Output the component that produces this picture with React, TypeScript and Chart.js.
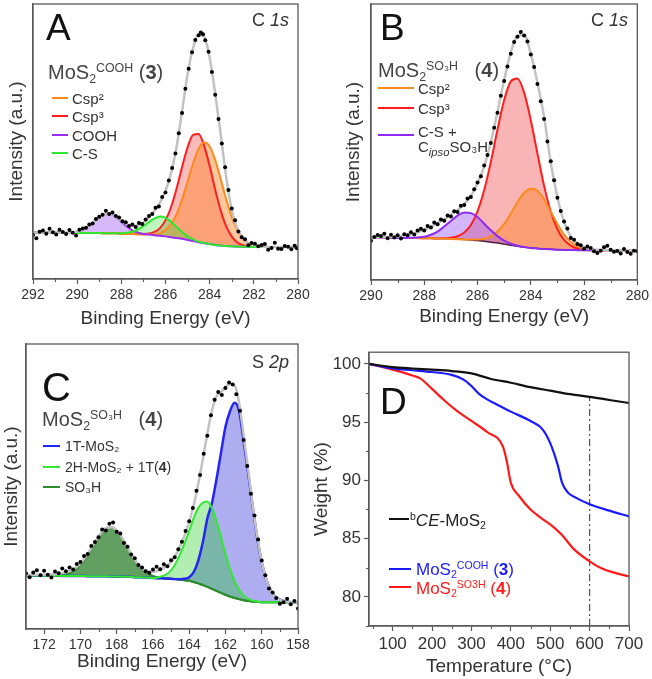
import React, { useEffect, useRef } from "react";
import { Chart, registerables } from "chart.js";
Chart.register(...registerables);

const FONT = "'Liberation Sans', Arial, Helvetica, sans-serif";
const AXIS = "#5a5a5a";
const TXT = "#333333";

// ---------------- Panel A : C 1s of MoS2-COOH ----------------
const A_X = [292,291.75,291.5,291.25,291,290.75,290.5,290.25,290,289.75,289.5,289.25,289,288.75,288.5,288.25,288,287.75,287.5,287.25,287,286.75,286.5,286.25,286,285.75,285.5,285.25,285,284.75,284.5,284.25,284,283.75,283.5,283.25,283,282.75,282.5,282.25,282,281.75,281.5,281.25,281,280.75,280.5,280.25,280];
const A_BG = [16.9,16.9,16.8,16.8,16.8,16.8,16.7,16.7,16.7,16.7,16.7,16.7,16.7,16.6,16.6,16.6,16.5,16.5,16.4,16.3,16.2,16.1,15.9,15.7,15.5,15.2,14.9,14.6,14.2,13.8,13.4,13.0,12.7,12.4,12.2,12.0,11.9,11.8,11.7,11.7,11.6,11.6,11.6,11.6,11.6,11.6,11.6,11.6,11.6];
const A_COOH_NET = [0,0,0,0,0,0,0.05,0.15,0.45,1.1,2.3,4.0,5.7,7.0,7.1,6.1,4.3,2.6,1.3,0.55,0.2,0.06,0,0,0,0,0,0,0,0,0,0,0,0,0,0,0,0,0,0,0,0,0,0,0,0,0,0,0];
const A_CS_NET = [0,0,0,0,0,0,0,0,0,0,0,0,0,0,0,0,0.1,0.3,0.8,1.7,3.0,4.6,6.1,7.0,6.8,5.6,4.0,2.5,1.3,0.6,0.2,0.1,0,0,0,0,0,0,0,0,0,0,0,0,0,0,0,0,0];
const A_SP3_NET = [0,0,0,0,0,0,0,0,0,0,0,0,0,0,0,0,0,0,0,0,0.15,0.45,1.2,2.8,5.9,10.9,17.9,26.1,33.7,38.6,39.3,35.4,28.4,20.1,12.7,7.1,3.5,1.5,0.6,0.2,0,0,0,0,0,0,0,0,0];
const A_SP2_NET = [0,0,0,0,0,0,0,0,0,0,0,0,0,0,0,0,0,0,0,0,0,0.15,0.4,1.0,2.3,4.7,8.6,14.3,21.2,28.3,34.0,36.6,35.5,30.9,24.1,16.9,10.7,6.1,3.1,1.4,0.6,0.2,0,0,0,0,0,0,0];
const A_ENV = [16.9,16.9,16.8,16.8,16.8,16.8,16.8,16.9,17.2,17.8,19.0,20.7,22.4,23.6,23.8,22.8,21.2,19.9,19.3,19.5,20.5,22.3,24.8,27.8,32.0,38.5,48.0,61.0,74.5,84.0,88.8,88.0,80.5,67.5,52.5,37.0,25.0,18.5,15.0,13.2,12.3,11.9,11.7,11.6,11.6,11.6,11.6,11.6,11.6];
const A_DOT_X = [292.0,291.85,291.7,291.55,291.4,291.25,291.1,290.95,290.8,290.65,290.5,290.35,290.2,290.05,289.9,289.75,289.6,289.45,289.3,289.15,289.0,288.85,288.7,288.55,288.4,288.25,288.1,287.95,287.8,287.65,287.5,287.35,287.2,287.05,286.9,286.75,286.6,286.45,286.3,286.15,286.0,285.85,285.7,285.55,285.4,285.25,285.1,284.95,284.8,284.65,284.5,284.4,284.3,284.2,284.05,283.9,283.75,283.6,283.45,283.3,283.15,283.0,282.85,282.7,282.55,282.4,282.25,282.1,281.95,281.8,281.65,281.5,281.35,281.2,281.05,280.9,280.75,280.6,280.45,280.3,280.15,280.05];
const A_DOT_Y = [16.0,14.8,17.2,17.6,16.5,18.3,17.0,16.2,17.9,17.1,16.4,17.8,16.8,15.8,17.9,18.4,18.6,19.8,20.2,21.8,22.6,23.4,24.8,23.6,24.2,22.9,22.4,21.0,20.6,19.3,19.8,18.9,20.4,20.0,21.6,22.9,23.6,25.9,26.4,29.8,31.5,35.8,40.4,45.6,53.0,60.4,69.2,76.5,82.5,86.9,88.6,89.6,89.0,86.8,82.6,75.3,67.0,58.2,49.3,40.6,32.4,25.6,21.4,17.3,15.2,14.5,12.3,13.1,12.8,11.9,12.4,12.7,10.6,11.3,13.2,11.0,10.9,12.0,11.7,10.8,12.1,11.2];
const A_TICKS = [292,290,288,286,284,282,280];
const A_MINOR = [291,289,287,285,283,281];

// ---------------- Panel B : C 1s of MoS2-SO3H ----------------
const B_X = [290,289.75,289.5,289.25,289,288.75,288.5,288.25,288,287.75,287.5,287.25,287,286.75,286.5,286.25,286,285.75,285.5,285.25,285,284.75,284.5,284.25,284,283.75,283.5,283.25,283,282.75,282.5,282.25,282,281.75,281.5,281.25,281,280.75,280.5,280.25,280];
const B_BG = [15.3,15.3,15.3,15.3,15.2,15.2,15.2,15.2,15.1,15.1,15.0,15.0,14.9,14.8,14.7,14.5,14.3,14.0,13.7,13.4,13.0,12.6,12.2,11.9,11.6,11.4,11.2,11.1,11.0,10.9,10.9,10.8,10.8,10.8,10.8,10.8,10.8,10.8,10.8,10.8,10.8];
const B_CS_NET = [0,0,0,0,0,0,0.07,0.22,0.58,1.3,2.55,4.36,6.5,8.5,9.75,9.72,8.5,6.4,4.3,2.5,1.26,0.55,0.2,0.07,0,0,0,0,0,0,0,0,0,0,0,0,0,0,0,0,0];
const B_SP3_NET = [0,0,0,0,0,0,0,0,0,0,0,0.13,0.4,1.04,2.5,5.45,10.6,18.6,29.1,41.1,52.2,59.4,60.85,56.0,46.3,34.4,22.9,13.7,7.4,3.6,1.56,0.61,0.2,0,0,0,0,0,0,0,0];
const B_SP2_NET = [0,0,0,0,0,0,0,0,0,0,0,0,0,0,0,0.13,0.36,0.93,2.1,4.2,7.35,11.5,16.0,19.7,21.5,20.9,17.9,13.7,9.25,5.55,2.95,1.4,0.58,0.2,0,0,0,0,0,0,0];
const B_ENV = [15.3,15.4,15.5,15.6,15.8,16.1,16.6,17.3,18.2,19.4,20.6,22.0,23.6,25.3,27.5,30.5,35.0,41.2,50.0,61.0,72.5,82.5,88.5,88.8,82.0,71.5,59.0,42.5,30.0,21.0,15.8,13.2,11.9,11.2,11.0,10.9,10.8,10.8,10.8,10.8,10.8];
const B_DOT_X = [290,289.875,289.75,289.625,289.5,289.375,289.25,289.125,289,288.875,288.75,288.625,288.5,288.375,288.25,288.125,288,287.875,287.75,287.625,287.5,287.375,287.25,287.125,287,286.875,286.75,286.625,286.5,286.375,286.25,286.125,286,285.875,285.75,285.625,285.5,285.375,285.25,285.125,285,284.875,284.75,284.625,284.5,284.375,284.25,284.125,284,283.875,283.75,283.625,283.5,283.375,283.25,283.125,283,282.875,282.75,282.625,282.5,282.375,282.25,282.125,282,281.875,281.75,281.625,281.5,281.375,281.25,281.125,281,280.875,280.75,280.625,280.5,280.375,280.25,280.125,280];
const B_DOT_Y = [14.2,15.6,16.3,15.9,16.8,15.1,16.4,15.4,16.2,15.0,16.6,16.2,17.3,16.5,17.9,18.6,17.9,19.6,19.0,20.8,20.2,21.9,21.5,23.4,23.0,24.9,24.6,26.9,27.2,29.5,30.1,32.9,35.3,37.6,41.5,45.3,49.6,55.2,60.6,66.8,72.1,77.4,82.0,86.2,88.1,89.9,88.6,86.4,81.7,77.2,71.0,64.8,58.3,50.2,43.0,36.1,29.8,25.0,21.2,18.7,15.2,14.6,13.0,12.6,11.3,12.1,11.6,10.4,9.8,10.6,11.9,12.4,11.0,10.2,10.5,9.6,11.2,10.1,9.5,10.6,10.4];
const B_TICKS = [290,288,286,284,282,280];
const B_MINOR = [289,287,285,283,281];

// ---------------- Panel C : S 2p of MoS2-SO3H ----------------
const C_X = [173,172.75,172.5,172.25,172,171.75,171.5,171.25,171,170.75,170.5,170.25,170,169.75,169.5,169.25,169,168.75,168.5,168.25,168,167.75,167.5,167.25,167,166.75,166.5,166.25,166,165.75,165.5,165.25,165,164.75,164.5,164.25,164,163.75,163.5,163.25,163,162.75,162.5,162.25,162,161.75,161.5,161.25,161,160.75,160.5,160.25,160,159.75,159.5,159.25,159,158.75,158.5,158.25,158];
const C_BG = [18.8,18.8,18.8,18.8,18.7,18.7,18.7,18.7,18.6,18.6,18.6,18.6,18.6,18.6,18.5,18.5,18.5,18.5,18.5,18.4,18.4,18.4,18.3,18.3,18.2,18.2,18.1,18.0,17.9,17.8,17.8,17.7,17.6,17.5,17.3,17.1,16.9,16.5,16.0,15.4,14.8,14.1,13.4,12.7,12.0,11.4,10.9,10.5,10.1,9.8,9.6,9.5,9.4,9.4,9.4,9.4,9.4,9.4,9.4,9.4,9.4];
const C_SO3H_NET = [0,0,0,0,0,0,0,0.15,0.35,0.7,1.3,2.3,3.8,5.8,8.3,11.1,13.8,15.9,17.1,17.2,16.0,13.9,11.2,8.4,5.9,3.8,2.3,1.3,0.7,0.35,0.15,0,0,0,0,0,0,0,0,0,0,0,0,0,0,0,0,0,0,0,0,0,0,0,0,0,0,0,0,0,0];
const C_2H_NET = [0,0,0,0,0,0,0,0,0,0,0,0,0,0,0,0,0,0,0,0,0,0,0,0,0,0,0,0,0,0.3,0.7,1.5,3.0,5.5,9.0,13.0,17.5,22.5,26.5,28.9,29.9,28.3,24.6,19.6,14.3,9.6,5.9,3.3,1.7,0.8,0.35,0.15,0,0,0,0,0,0,0,0,0];
const C_1T_NET = [0,0,0,0,0,0,0,0,0,0,0,0,0,0,0,0,0,0,0,0,0,0,0,0,0,0,0,0,0,0,0,0,0,0,0.15,0.5,1.3,3.5,8,15,24,30,39,49,59,65,68.5,66,56,45,33.5,22.5,14.0,8.0,4.2,2.0,0.9,0.35,0.1,0,0];
const C_ENV = [19.0,19.0,19.0,19.0,19.0,19.1,19.2,19.3,19.6,20.0,20.6,21.6,23.0,25.0,27.4,30.0,32.5,34.6,35.6,35.7,34.6,32.5,29.8,27.0,24.3,22.2,20.8,20.1,20.0,20.5,21.2,22.0,23.5,25.8,29.0,33.0,37.5,43.5,51.0,59.5,68.5,76.5,81.5,83.0,85.0,86.0,85.5,79.5,68.0,56.0,43.5,32.5,23.5,17.5,13.3,11.2,10.2,9.7,9.5,9.4,9.4];
const C_DOT_X = [173,172.8,172.6,172.4,172.2,172,171.8,171.6,171.4,171.2,171,170.8,170.6,170.4,170.2,170,169.8,169.6,169.4,169.2,169,168.8,168.6,168.4,168.2,168,167.8,167.6,167.4,167.2,167,166.8,166.6,166.4,166.2,166,165.8,165.6,165.4,165.2,165,164.8,164.6,164.4,164.2,164,163.8,163.6,163.4,163.2,163,162.8,162.6,162.4,162.2,162,161.8,161.6,161.4,161.2,161,160.8,160.6,160.4,160.2,160,159.8,159.6,159.4,159.2,159,158.8,158.6,158.4,158.2,158];
const C_DOT_Y = [19.5,18.2,19.8,20.6,18.9,20.4,19.0,18.1,20.2,19.6,21.2,20.3,21.6,20.9,22.8,23.5,25.6,26.3,29.1,30.5,32.2,34.9,34.6,36.9,37.4,34.1,33.5,30.2,28.9,26.1,24.8,22.5,21.6,20.3,19.7,20.9,21.8,21.0,22.7,22.0,24.1,25.2,28.0,30.6,34.4,37.8,42.5,48.5,54.0,61.5,67.8,75.0,80.4,83.2,82.1,84.6,86.5,85.8,82.4,76.6,66.3,57.2,47.5,39.8,31.4,24.0,18.9,14.2,12.8,10.9,8.9,9.4,10.6,8.7,9.8,7.2];
const C_TICKS = [172,170,168,166,164,162,160,158];
const C_MINOR = [171,169,167,165,163,161,159];

// ---------------- Panel D : TGA ----------------
const D_T_CE = [40,100,150,200,250,300,350,400,450,500,550,600,650,700];
const D_CE = [100,99.72,99.6,99.5,99.38,99.18,98.7,98.38,98.0,97.7,97.4,97.17,96.9,96.64];
const D_T_COOH = [40,100,150,200,250,280,300,320,340,360,400,450,480,500,520,530,545,560,600,650,700];
const D_COOH = [100,99.6,99.45,99.3,99.05,98.65,98.1,97.4,96.95,96.6,95.9,95.1,94.4,93.2,91.2,89.8,88.95,88.6,87.95,87.4,86.9];
const D_T_SO3H = [40,100,150,170,200,230,260,300,340,380,390,400,420,450,480,510,530,560,600,630,660,700];
const D_SO3H = [100,99.5,99.0,98.75,97.85,96.9,96.05,95.1,94.15,92.9,91.6,89.8,88.7,87.5,86.7,85.95,85.3,84.1,83.05,82.45,82.1,81.75];
const D_MARK_T = 600;
const D_MARK_TOP = 97.17;
const D_X_TICKS = [100,200,300,400,500,600,700];
const D_X_MINOR = [50,150,250,350,450,550,650];
const D_Y_TICKS = [80,85,90,95,100];
const D_Y_MINOR = [77.5,82.5,87.5,92.5,97.5];

// ---------------- helpers ----------------
const pts = (xs: number[], ys: number[]) => xs.map((x, i) => ({ x, y: ys[i] }));
const onBg = (xs: number[], bg: number[], net: number[]) => xs.map((x, i) => ({ x, y: bg[i] + net[i] }));

const framePlugin = {
  id: "frameMinor",
  afterDraw(chart: any, _a: any, o: any) {
    const { ctx, chartArea: a } = chart;
    ctx.save();
    ctx.strokeStyle = AXIS;
    ctx.lineWidth = 1.3;
    ctx.strokeRect(a.left, a.top, a.right - a.left, a.bottom - a.top);
    ctx.lineWidth = 1.1;
    const xs = chart.scales.x;
    const ys = chart.scales.y;
    (o.xMinor || []).forEach((v: number) => {
      const p = Math.round(xs.getPixelForValue(v)) + 0.5;
      ctx.beginPath();
      ctx.moveTo(p, a.bottom);
      ctx.lineTo(p, a.bottom + 3);
      ctx.stroke();
    });
    (o.yMinor || []).forEach((v: number) => {
      const p = Math.round(ys.getPixelForValue(v)) + 0.5;
      ctx.beginPath();
      ctx.moveTo(a.left, p);
      ctx.lineTo(a.left - 3, p);
      ctx.stroke();
    });
    ctx.restore();
  },
};

function xAxis(o: any) {
  return {
    type: "linear",
    min: o.min,
    max: o.max,
    reverse: !!o.reverse,
    afterBuildTicks: (s: any) => {
      s.ticks = o.ticks.map((v: number) => ({ value: v }));
    },
    afterFit: (s: any) => {
      s.height = o.height;
    },
    ticks: { color: TXT, font: { family: FONT, size: o.tickSize }, padding: o.tickPad, autoSkip: false, maxRotation: 0, minRotation: 0 },
    grid: { display: true, drawOnChartArea: false, drawTicks: true, tickLength: 5, tickWidth: 1.2, tickColor: AXIS, color: AXIS },
    border: { display: true, color: AXIS, width: 1.3 },
    title: { display: true, text: o.title, color: TXT, font: { family: FONT, size: 19 }, padding: { top: 0, bottom: o.titlePad } },
  };
}

function yBlank(o: any) {
  return {
    type: "linear",
    min: 0,
    max: 100,
    afterFit: (s: any) => {
      s.width = o.width;
    },
    ticks: { display: false },
    grid: { display: false },
    border: { display: true, color: AXIS, width: 1.3 },
    title: { display: true, text: "Intensity (a.u.)", color: TXT, font: { family: FONT, size: 19 }, padding: { top: o.titlePad, bottom: 0 } },
  };
}

function baseOptions(padding: any, scales: any, frame: any) {
  return {
    responsive: false,
    animation: false,
    devicePixelRatio: 1,
    events: [],
    layout: { padding },
    plugins: {
      legend: { display: false },
      tooltip: { enabled: false },
      filler: { drawTime: "beforeDatasetsDraw" },
      frameMinor: frame,
    },
    scales,
  };
}

const comp = (data: any, color: string, fillTo: number, fillColor: string, width = 2) => ({
  data,
  borderColor: color,
  borderWidth: width,
  pointRadius: 0,
  cubicInterpolationMode: "monotone",
  fill: fillTo,
  backgroundColor: fillColor,
});
const plain = (data: any, color: string, width: number, extra: any = {}) => ({
  data,
  borderColor: color,
  borderWidth: width,
  pointRadius: 0,
  cubicInterpolationMode: "monotone",
  fill: false,
  ...extra,
});
const dots = (data: any) => ({
  data,
  showLine: false,
  pointRadius: 2,
  pointBackgroundColor: "#000",
  pointBorderWidth: 0,
  borderColor: "#000",
  fill: false,
});

// ---------------- chart builders ----------------
const buildA = () => ({
  type: "line",
  data: {
    datasets: [
      dots(pts(A_DOT_X, A_DOT_Y)),
      plain(pts(A_X, A_ENV), "#c2c2c2", 2.5),
      comp(onBg(A_X, A_BG, A_CS_NET), "#2ee62e", 6, "rgba(40,225,40,0.30)"),
      comp(onBg(A_X, A_BG, A_COOH_NET), "#9a2ef0", 6, "rgba(150,80,240,0.40)"),
      comp(onBg(A_X, A_BG, A_SP2_NET), "#ff8a1c", 6, "rgba(255,130,40,0.45)"),
      comp(onBg(A_X, A_BG, A_SP3_NET), "#ff1e1e", 6, "rgba(240,60,60,0.35)"),
      plain(pts(A_X, A_BG), "#2ee62e", 0),
    ],
  },
  options: baseOptions(
    { left: 0, top: 3, right: 28, bottom: 0 },
    {
      x: xAxis({ min: 280, max: 292, reverse: true, ticks: A_TICKS, height: 60, tickSize: 14, tickPad: 3, title: "Binding Energy (eV)", titlePad: 9 }),
      y: yBlank({ width: 33, titlePad: 5 }),
    },
    { xMinor: A_MINOR }
  ),
  plugins: [framePlugin],
});

const buildB = () => ({
  type: "line",
  data: {
    datasets: [
      dots(pts(B_DOT_X, B_DOT_Y)),
      plain(pts(B_X, B_ENV), "#c2c2c2", 2.5),
      comp(onBg(B_X, B_BG, B_CS_NET), "#8e2bf0", 5, "rgba(150,80,240,0.42)"),
      comp(onBg(B_X, B_BG, B_SP2_NET), "#ff8a1c", 5, "rgba(255,130,40,0.45)"),
      comp(onBg(B_X, B_BG, B_SP3_NET), "#ff1e1e", 5, "rgba(240,60,60,0.38)"),
      plain(pts(B_X, B_BG), "#4a2040", 1.5),
    ],
  },
  options: baseOptions(
    { left: 0, top: 3, right: 14, bottom: 0 },
    {
      x: xAxis({ min: 280, max: 290, reverse: true, ticks: B_TICKS, height: 59, tickSize: 14, tickPad: 3, title: "Binding Energy (eV)", titlePad: 11 }),
      y: yBlank({ width: 45, titlePad: 16 }),
    },
    { xMinor: B_MINOR }
  ),
  plugins: [framePlugin],
});

const buildC = () => ({
  type: "line",
  data: {
    datasets: [
      dots(pts(C_DOT_X, C_DOT_Y)),
      plain(pts(C_X, C_ENV), "#c2c2c2", 2.5),
      comp(onBg(C_X, C_BG, C_2H_NET), "#33e833", 5, "rgba(0,200,0,0.30)"),
      comp(onBg(C_X, C_BG, C_1T_NET), "#2424f5", 5, "rgba(60,60,220,0.42)", 2.5),
      comp(onBg(C_X, C_BG, C_SO3H_NET), "#2e8b2e", 5, "rgba(30,120,30,0.70)"),
      plain(pts(C_X, C_BG), "#2e8b2e", 2),
    ],
  },
  options: baseOptions(
    { left: 0, top: 5, right: 18, bottom: 0 },
    {
      x: xAxis({ min: 158, max: 173, reverse: true, ticks: C_TICKS, height: 50, tickSize: 14, tickPad: 3, title: "Binding Energy (eV)", titlePad: 6 }),
      y: yBlank({ width: 26, titlePad: 0 }),
    },
    { xMinor: C_MINOR }
  ),
  plugins: [framePlugin],
});

const buildD = () => ({
  type: "line",
  data: {
    datasets: [
      plain(pts(D_T_CE, D_CE), "#111111", 2.2),
      plain(pts(D_T_COOH, D_COOH), "#1a1aff", 2.2),
      plain(pts(D_T_SO3H, D_SO3H), "#ff1a1a", 2.2),
      plain([{ x: D_MARK_T, y: 77.5 }, { x: D_MARK_T, y: D_MARK_TOP }], "#555555", 1.2, { borderDash: [7, 3, 2, 3], cubicInterpolationMode: "default", tension: 0 }),
    ],
  },
  options: baseOptions(
    { left: 0, top: 13, right: 23, bottom: 0 },
    {
      x: xAxis({ min: 40, max: 700, ticks: D_X_TICKS, height: 53, tickSize: 17, tickPad: 3, title: "Temperature (°C)", titlePad: 1 }),
      y: {
        type: "linear",
        min: 77.5,
        max: 101,
        afterBuildTicks: (s: any) => {
          s.ticks = D_Y_TICKS.map((v) => ({ value: v }));
        },
        afterFit: (s: any) => {
          s.width = 59;
        },
        ticks: { color: TXT, font: { family: FONT, size: 17 }, padding: 3 },
        grid: { display: true, drawOnChartArea: false, drawTicks: true, tickLength: 5, tickWidth: 1.2, tickColor: AXIS, color: AXIS },
        border: { display: true, color: AXIS, width: 1.3 },
        title: { display: true, text: "Weight (%)", color: TXT, font: { family: FONT, size: 19 }, padding: { top: 0, bottom: 0 } },
      },
    },
    { xMinor: D_X_MINOR, yMinor: D_Y_MINOR }
  ),
  plugins: [framePlugin],
});

// ---------------- React ----------------
function ChartCanvas({ left, top, width, height, build }: any) {
  const ref = useRef<HTMLCanvasElement>(null);
  useEffect(() => {
    const chart = new Chart(ref.current as HTMLCanvasElement, build());
    return () => chart.destroy();
  }, []);
  return <canvas ref={ref} width={width} height={height} style={{ position: "absolute", left, top, width, height }} />;
}

function T({ x, y, size, color, children, style }: any) {
  return (
    <div style={{ position: "absolute", left: x, top: y, transform: "translateY(-50%)", fontSize: size, lineHeight: 1, color: color ?? "#333", whiteSpace: "nowrap", ...style }}>
      {children}
    </div>
  );
}
function Ln({ x, y, len, color, w = 2.5 }: any) {
  return <div style={{ position: "absolute", left: x, top: y - w / 2, width: len, height: w, background: color }} />;
}
const Sub = ({ children, s = "0.62em" }: any) => <span style={{ fontSize: s, position: "relative", top: "0.32em" }}>{children}</span>;
const Sup = ({ children, s = "0.62em" }: any) => <span style={{ fontSize: s, position: "relative", top: "-0.55em" }}>{children}</span>;

export default function App() {
  return (
    <div style={{ position: "absolute", left: 0, top: 0, width: 652, height: 679, background: "#fff", fontFamily: FONT, overflow: "hidden" }}>
      <ChartCanvas left={0} top={0} width={326} height={339} build={buildA} />
      <ChartCanvas left={326} top={0} width={326} height={339} build={buildB} />
      <ChartCanvas left={0} top={339} width={316} height={340} build={buildC} />
      <ChartCanvas left={310} top={339} width={342} height={340} build={buildD} />

      {/* Panel A */}
      <T x={46} y={27} size={37} color="#111">A</T>
      <T x={252} y={20} size={18}>C <i>1s</i></T>
      <T x={48} y={72} size={20} color="#444">MoS<Sub>2</Sub><Sup>COOH</Sup> (<b>3</b>)</T>
      <Ln x={52} y={98} len={16} color="#ff8a1c" />
      <T x={72} y={98} size={15}>Csp²</T>
      <Ln x={52} y={116} len={16} color="#ff1e1e" />
      <T x={72} y={116} size={15}>Csp³</T>
      <Ln x={52} y={135} len={16} color="#9a2ef0" />
      <T x={72} y={135} size={15}>COOH</T>
      <Ln x={52} y={153} len={16} color="#2ee62e" />
      <T x={72} y={153} size={15}>C-S</T>

      {/* Panel B */}
      <T x={380} y={27} size={37} color="#111">B</T>
      <T x={591} y={20} size={18}>C <i>1s</i></T>
      <T x={378} y={70} size={20} color="#444">MoS<Sub>2</Sub><Sup>SO₃H</Sup>&nbsp;&nbsp;&nbsp;(<b>4</b>)</T>
      <Ln x={378} y={88} len={36} color="#ff8a1c" />
      <T x={418} y={88} size={15}>Csp²</T>
      <Ln x={378} y={108} len={36} color="#ff1e1e" />
      <T x={418} y={108} size={15}>Csp³</T>
      <Ln x={378} y={135} len={36} color="#8e2bf0" />
      <T x={418} y={131} size={15}>C-S +</T>
      <T x={418} y={147} size={15}>C<Sub s="0.75em"><i>ipso</i></Sub>SO₃H</T>

      {/* Panel C */}
      <T x={42} y={387} size={40} color="#111">C</T>
      <T x={252} y={362} size={18}>S <i>2p</i></T>
      <T x={42} y={419} size={20} color="#444">MoS<Sub>2</Sub><Sup>SO₃H</Sup>&nbsp;&nbsp;&nbsp;(<b>4</b>)</T>
      <Ln x={43} y={446} len={17} color="#2424f5" />
      <T x={65} y={446} size={14}>1T-MoS₂</T>
      <Ln x={43} y={467} len={17} color="#33e833" />
      <T x={65} y={467} size={14}>2H-MoS₂ + 1T(<b>4</b>)</T>
      <Ln x={43} y={487} len={17} color="#2e8b2e" />
      <T x={65} y={487} size={14}>SO₃H</T>

      {/* Panel D */}
      <T x={380} y={401} size={37} color="#111">D</T>
      <Ln x={389} y={519} len={20} color="#111" />
      <T x={410} y={520} size={17} color="#222"><Sup>b</Sup><i>CE</i>-MoS<Sub>2</Sub></T>
      <Ln x={389} y={569} len={22} color="#1a1aff" />
      <T x={416} y={569} size={17} color="#1a1aff">MoS<Sub>2</Sub><Sup>COOH</Sup> (<b>3</b>)</T>
      <Ln x={389} y={587} len={22} color="#ff1a1a" />
      <T x={416} y={588} size={17} color="#ff1a1a">MoS<Sub>2</Sub><Sup>SO3H</Sup> (<b>4</b>)</T>
    </div>
  );
}
